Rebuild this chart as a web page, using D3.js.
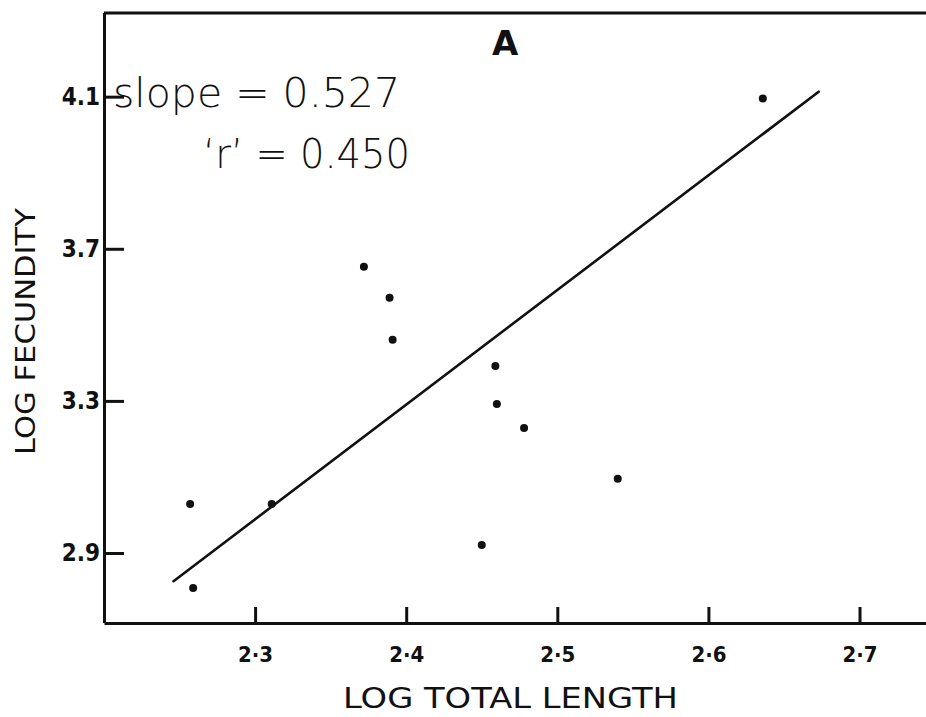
<!DOCTYPE html>
<html>
<head>
<meta charset="utf-8">
<script src="https://cdn.jsdelivr.net/npm/d3@7"></script>
<style>
  body { margin: 0; background: #fff; }
  text { fill: #111; font-family: "DejaVu Sans", sans-serif; }
</style>
</head>
<body>
<script>
const WIDTH = 926;
const HEIGHT = 717;

// points (log total length, log fecundity)
const logLength = [2.257, 2.259, 2.311, 2.372, 2.389, 2.391, 2.450, 2.459, 2.460, 2.478, 2.540, 2.636];
const logFecundity = [3.029, 2.808, 3.029, 3.653, 3.571, 3.461, 2.921, 3.392, 3.292, 3.229, 3.095, 4.095];

// fitted line ends
const fitX = [2.246, 2.673];
const fitY = [2.826, 4.113];

const xTicks = [2.3, 2.4, 2.5, 2.6, 2.7];
const yTicks = [2.9, 3.3, 3.7, 4.1];

const x = d3.scaleLinear().domain([2.2, 2.744]).range([104, 926]);
const y = d3.scaleLinear().domain([2.716, 4.32]).range([623, 13]);

let svg = d3.select("body")
            .append("svg")
            .attr("width", WIDTH)
            .attr("height", HEIGHT);

// top frame line
svg.append("line")
   .attr("x1", x(2.2)).attr("x2", x(2.744))
   .attr("y1", y(4.32)).attr("y2", y(4.32))
   .attr("stroke", "#111").attr("stroke-width", 3);

let xAxis = svg.append("g")
               .attr("transform", `translate(0,${y(2.716)})`)
               .call(d3.axisBottom(x)
                       .tickValues(xTicks)
                       .tickSizeInner(-16)
                       .tickSizeOuter(0)
                       .tickPadding(23)
                       .tickFormat(d => d3.format(".1f")(d).replace(".", "·")));

let yAxis = svg.append("g")
               .attr("transform", `translate(${x(2.2)},0)`)
               .call(d3.axisLeft(y)
                       .tickValues(yTicks)
                       .tickSizeInner(-20)
                       .tickSizeOuter(0)
                       .tickPadding(4)
                       .tickFormat(d3.format(".1f")));

[xAxis, yAxis].forEach(g => {
  g.select(".domain").attr("stroke", "#111").style("stroke-width", "3px");
  g.selectAll(".tick line").attr("stroke", "#111").style("stroke-width", "3px");
  g.selectAll(".tick text")
   .style("font-family", "\"DejaVu Sans Condensed\", \"DejaVu Sans\", sans-serif")
   .style("font-weight", "bold")
   .attr("fill", "#111");
});
xAxis.selectAll(".tick text").style("font-size", "22px");
yAxis.selectAll(".tick text").style("font-size", "24px");
yAxis.select(".domain").attr("d", `M0.5,${y(4.32)}V${y(2.716)}`);

// regression line
svg.append("line")
   .attr("x1", x(fitX[0])).attr("y1", y(fitY[0]))
   .attr("x2", x(fitX[1])).attr("y2", y(fitY[1]))
   .attr("stroke", "#111")
   .attr("stroke-width", 2.6)
   .attr("stroke-linecap", "round");

svg.selectAll("circle.pt")
   .data(logLength)
   .enter().append("circle")
   .attr("class", "pt")
   .attr("cx", d => x(d))
   .attr("cy", (d, i) => y(logFecundity[i]))
   .attr("r", 4)
   .attr("fill", "#111");

// annotations
svg.append("text")
   .attr("x", 492).attr("y", 55)
   .style("font-size", "34px").style("font-weight", "bold")
   .text("A");

svg.append("text")
   .attr("x", 113).attr("y", 107)
   .attr("textLength", 287).attr("lengthAdjust", "spacingAndGlyphs")
   .style("font-size", "40px").style("font-weight", "300")
   .text("slope = 0.527");

svg.append("text")
   .attr("x", 203).attr("y", 168)
   .attr("textLength", 207).attr("lengthAdjust", "spacingAndGlyphs")
   .style("font-size", "40px").style("font-weight", "300")
   .text("\u2018r\u2019 = 0.450");

// axis titles
svg.append("text")
   .attr("x", 343).attr("y", 708)
   .attr("textLength", 335).attr("lengthAdjust", "spacingAndGlyphs")
   .style("font-size", "29px")
   .text("LOG  TOTAL  LENGTH");

svg.append("text")
   .attr("transform", "translate(35,455) rotate(-90)")
   .attr("textLength", 247).attr("lengthAdjust", "spacingAndGlyphs")
   .style("font-size", "27px")
   .text("LOG  FECUNDITY");
</script>
</body>
</html>
